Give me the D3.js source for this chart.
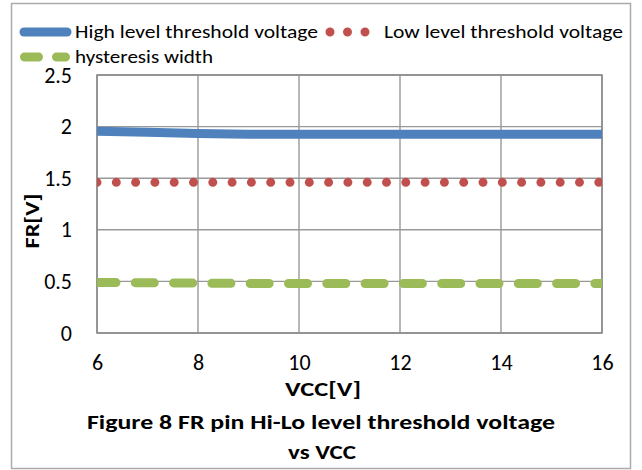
<!DOCTYPE html>
<html>
<head>
<meta charset="utf-8">
<script src="https://cdn.jsdelivr.net/npm/d3@7"></script>
<style>
  body { margin: 0; background: #fff; }
  svg text { font-family: Carlito, Calibri, Lato, "Open Sans", sans-serif; fill: #000; }
</style>
</head>
<body>
<svg id="chart" width="642" height="470"></svg>
<script>
// values
var vcc = [6, 7, 8, 9, 10, 11, 12, 13, 14, 15, 16];
var highLevel = [1.955, 1.945, 1.932, 1.927, 1.925, 1.925, 1.925, 1.925, 1.925, 1.925, 1.925];
var lowLevel = [1.46, 1.46, 1.46, 1.46, 1.46, 1.46, 1.46, 1.46, 1.46, 1.46, 1.46];
var hysteresis = [0.49, 0.487, 0.483, 0.48, 0.48, 0.48, 0.48, 0.48, 0.48, 0.48, 0.48];
var xTicks = [6, 8, 10, 12, 14, 16];
var yTicks = [0, 0.5, 1, 1.5, 2, 2.5];

var svg = d3.select("#chart"),
    margin = {top: 75, left: 97, right: 40, bottom: 137},
    width = +svg.attr("width") - margin.left - margin.right,
    height = +svg.attr("height") - margin.top - margin.bottom;

// outer chart frame
svg.append("rect")
    .attr("x", 11.5).attr("y", 3.5)
    .attr("width", 619).attr("height", 465)
    .attr("fill", "none")
    .attr("stroke", "#ababab")
    .attr("stroke-width", 1.5);

var g = svg.append("g").attr("transform", "translate(" + margin.left + "," + margin.top + ")");

var x = d3.scaleLinear().domain([6, 16]).range([0, width]);
var y = d3.scaleLinear().domain([0, 2.5]).range([height, 0]);

// grid
g.append("g").selectAll("line")
    .data(yTicks)
    .enter().append("line")
      .attr("x1", 0).attr("x2", width)
      .attr("y1", function(d) { return y(d); })
      .attr("y2", function(d) { return y(d); })
      .attr("stroke", "#999").attr("stroke-width", 1.4);

g.append("g").selectAll("line")
    .data(xTicks)
    .enter().append("line")
      .attr("y1", 0).attr("y2", height)
      .attr("x1", function(d) { return x(d); })
      .attr("x2", function(d) { return x(d); })
      .attr("stroke", "#999").attr("stroke-width", 1.4);

g.append("rect")
    .attr("width", width).attr("height", height)
    .attr("fill", "none")
    .attr("stroke", "#8a8a8a").attr("stroke-width", 1.5);

// axes (labels only)
var xAxis = g.append("g")
    .attr("transform", "translate(0," + height + ")")
    .call(d3.axisBottom(x).tickValues(xTicks).tickSize(0).tickPadding(21).tickFormat(function(d) { return String(d); }));
var yAxis = g.append("g")
    .call(d3.axisLeft(y).tickValues(yTicks).tickSize(0).tickPadding(25).tickFormat(function(d) { return String(d); }));
[xAxis, yAxis].forEach(function(a) {
  a.select(".domain").remove();
  a.selectAll("text").attr("fill", "#000").style("font-size", "22px")
    .style("font-family", "Carlito, Calibri, Lato, sans-serif");
});

// series
g.append("clipPath").attr("id", "plotclip")
  .append("rect").attr("width", width).attr("height", height);

var series = [
  {name: "High level threshold voltage", values: highLevel, color: "#4f81bd", dash: null, cap: "butt"},
  {name: "Low level threshold voltage", values: lowLevel, color: "#c0504d", dash: "0 19.3", cap: "round"},
  {name: "hysteresis width", values: hysteresis, color: "#9bbb59", dash: "19 19.3", cap: "round"}
];

var line = d3.line()
    .x(function(d) { return x(d[0]); })
    .y(function(d) { return y(d[1]); });

g.append("g").attr("clip-path", "url(#plotclip)")
  .selectAll("path")
  .data(series)
  .enter().append("path")
    .attr("d", function(s) { return line(d3.zip(vcc, s.values)); })
    .attr("fill", "none")
    .attr("stroke", function(s) { return s.color; })
    .attr("stroke-width", 9)
    .attr("stroke-linecap", function(s) { return s.cap; })
    .attr("stroke-dasharray", function(s) { return s.dash; });

// legend
var legend = [
  {s: series[0], x1: 24, x2: 67, y: 32, dash: null, tx: 75, tlen: 243},
  {s: series[1], x1: 330, x2: 366, y: 32, dash: "0 17.5", tx: 384, tlen: 239},
  {s: series[2], x1: 24.5, x2: 65.5, y: 57, dash: "14 18", tx: 75, tlen: 138}
];
var lg = svg.append("g").selectAll("g")
    .data(legend)
    .enter().append("g");
lg.append("line")
    .attr("x1", function(d) { return d.x1; })
    .attr("x2", function(d) { return d.x2; })
    .attr("y1", function(d) { return d.y; })
    .attr("y2", function(d) { return d.y; })
    .attr("stroke", function(d) { return d.s.color; })
    .attr("stroke-width", 9)
    .attr("stroke-linecap", "round")
    .attr("stroke-dasharray", function(d) { return d.dash; });
lg.append("text")
    .attr("x", function(d) { return d.tx; })
    .attr("y", function(d) { return d.y + 6; })
    .attr("textLength", function(d) { return d.tlen; })
    .attr("lengthAdjust", "spacingAndGlyphs")
    .style("font-size", "19px")
    .text(function(d) { return d.s.name; });

// axis titles and caption
svg.append("text")
    .attr("x", 323).attr("y", 396)
    .attr("text-anchor", "middle")
    .style("font-size", "21px").style("font-weight", "bold")
    .attr("textLength", 76).attr("lengthAdjust", "spacingAndGlyphs")
    .text("VCC[V]");

svg.append("text")
    .attr("transform", "translate(39,221) rotate(-90)")
    .attr("text-anchor", "middle")
    .style("font-size", "21px").style("font-weight", "bold")
    .attr("textLength", 55).attr("lengthAdjust", "spacingAndGlyphs")
    .text("FR[V]");

svg.append("text")
    .attr("x", 321).attr("y", 429)
    .attr("text-anchor", "middle")
    .style("font-size", "21px").style("font-weight", "bold")
    .attr("textLength", 468).attr("lengthAdjust", "spacingAndGlyphs")
    .text("Figure 8 FR pin Hi-Lo level threshold voltage");

svg.append("text")
    .attr("x", 322).attr("y", 459)
    .attr("text-anchor", "middle")
    .style("font-size", "21px").style("font-weight", "bold")
    .attr("textLength", 68).attr("lengthAdjust", "spacingAndGlyphs")
    .text("vs VCC");
</script>
</body>
</html>
